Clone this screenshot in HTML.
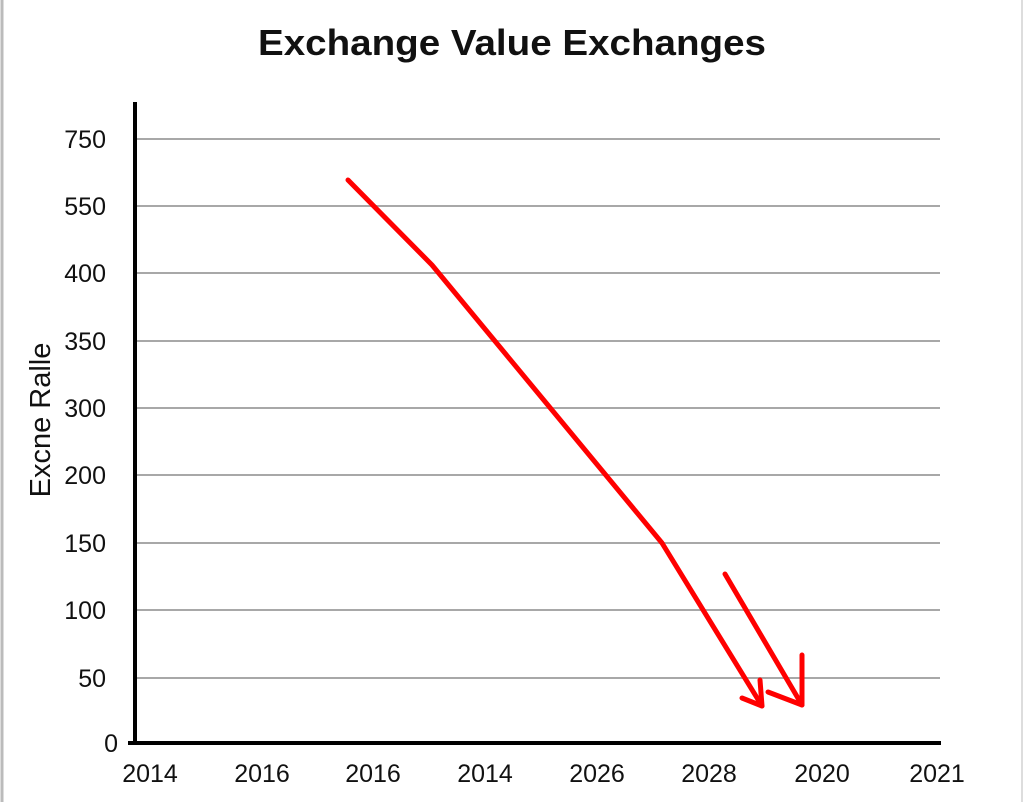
<!DOCTYPE html>
<html><head><style>
body{margin:0;background:#fff;}
svg{display:block;font-family:"Liberation Sans",sans-serif;}
</style></head><body>
<svg width="1024" height="802" viewBox="0 0 1024 802">
<rect width="1024" height="802" fill="#fff"/>
<line x1="2" y1="0" x2="2" y2="802" stroke="#bbb" stroke-width="3"/>
<line x1="1022" y1="0" x2="1022" y2="802" stroke="#ddd" stroke-width="2"/>
<text x="512" y="55" text-anchor="middle" font-size="36" font-weight="bold" fill="#111" textLength="508" lengthAdjust="spacingAndGlyphs">Exchange Value Exchanges</text>
<g stroke="#a8a8a8" stroke-width="2">
<line x1="135" y1="139" x2="940" y2="139"/>
<line x1="135" y1="206" x2="940" y2="206"/>
<line x1="135" y1="273" x2="940" y2="273"/>
<line x1="135" y1="341" x2="940" y2="341"/>
<line x1="135" y1="408" x2="940" y2="408"/>
<line x1="135" y1="475" x2="940" y2="475"/>
<line x1="135" y1="543" x2="940" y2="543"/>
<line x1="135" y1="610" x2="940" y2="610"/>
<line x1="135" y1="678" x2="940" y2="678"/>
</g>
<line x1="135" y1="102" x2="135" y2="745" stroke="#000" stroke-width="4"/>
<line x1="128" y1="743" x2="941" y2="743" stroke="#000" stroke-width="4"/>
<g font-size="25" fill="#111" text-anchor="end">
<text x="106" y="148">750</text>
<text x="106" y="215">550</text>
<text x="106" y="282">400</text>
<text x="106" y="350">350</text>
<text x="106" y="417">300</text>
<text x="106" y="484">200</text>
<text x="106" y="552">150</text>
<text x="106" y="619">100</text>
<text x="106" y="687">50</text>
<text x="118" y="752">0</text>
</g>
<g font-size="25" fill="#111" text-anchor="middle">
<text x="150" y="782">2014</text>
<text x="262" y="782">2016</text>
<text x="373" y="782">2016</text>
<text x="485" y="782">2014</text>
<text x="597" y="782">2026</text>
<text x="709" y="782">2028</text>
<text x="822" y="782">2020</text>
<text x="937" y="782">2021</text>
</g>
<text transform="translate(50,420) rotate(-90)" text-anchor="middle" font-size="29" fill="#111">Excne Ralle</text>
<g fill="none" stroke="#f00" stroke-width="5" stroke-linecap="round" stroke-linejoin="round">
<polyline points="348,180 432,265 662,543 762,706"/>
<polyline points="742,698 762,706 760,680"/>
<line x1="725" y1="574" x2="802" y2="705"/>
<polyline points="768,692 802,705 802,655"/>
</g>
</svg>
</body></html>
